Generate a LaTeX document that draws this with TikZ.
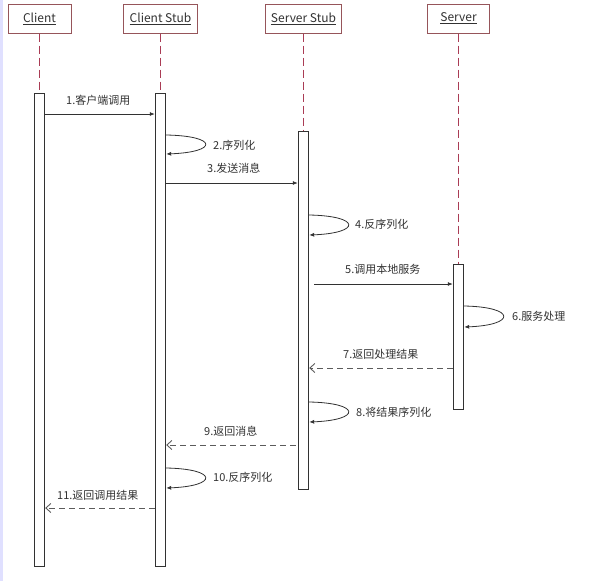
\documentclass[tikz,border=0pt]{standalone}
\usepackage{fontspec}
\setmainfont{Noto Sans CJK SC}
\usetikzlibrary{arrows.meta}
\definecolor{headred}{RGB}{150,85,90}
\definecolor{lifered}{RGB}{170,60,85}
\definecolor{inkgray}{RGB}{50,50,50}

\begin{document}
\begin{tikzpicture}[x=1pt,y=-1pt,
  head/.style={draw=headred,line width=1pt,minimum height=29pt,inner sep=0pt,font=\fontsize{12}{14}\selectfont,text=inkgray},
  bar/.style={draw=inkgray,fill=white,line width=0.9pt,minimum width=10.5pt,inner sep=0pt,anchor=north},
  life/.style={draw=lifered,dash pattern=on 8pt off 4pt,line width=1pt},
  call/.style={draw=inkgray,line width=0.8pt,-{Latex[length=5pt,width=4pt]}},
  back/.style={draw=inkgray!80,line width=0.9pt,dash pattern=on 6pt off 4pt,-{Straight Barb[length=5pt,width=9pt]}},
  msg/.style={anchor=west,inner sep=0pt,font=\fontsize{11}{13}\selectfont,text=inkgray}]
\useasboundingbox (0,0) rectangle (589,581);
\fill[blue!12] (0,0) rectangle (2.5,581);
% heads
\node (h-client) at (39.5,18.5) [head,minimum width=63pt] {\underline{Client}};
\node (h-cstub) at (160.5,18.5) [head,minimum width=74pt] {\underline{Client Stub}};
\node (h-sstub) at (303.5,18.5) [head,minimum width=76pt] {\underline{Server Stub}};
\node (h-server) at (458.5,18.5) [head,minimum width=62pt] {\underline{Server}};
% activation bars
\node (a-client) at (39.5,93) [bar,minimum height=473pt] {};
\node (a-cstub) at (160.5,93) [bar,minimum height=473pt] {};
\node (a-sstub) at (303.5,131) [bar,minimum height=358pt] {};
\node (a-server) at (458.5,264) [bar,minimum height=145pt] {};
\draw[life] (h-client) -- (a-client);
\draw[life] (h-cstub) -- (a-cstub);
\draw[life] (h-sstub) -- (a-sstub);
\draw[life] (h-server) -- (a-server);
% message levels
\coordinate (y1) at (0,114);
\coordinate (y2s) at (0,135);  \coordinate (y2e) at (0,154);
\coordinate (y3) at (0,183);
\coordinate (y4s) at (0,215);  \coordinate (y4e) at (0,235);
\coordinate (y5) at (0,284);
\coordinate (y6s) at (0,306);  \coordinate (y6e) at (0,327);
\coordinate (y7) at (0,368);
\coordinate (y8s) at (0,402);  \coordinate (y8e) at (0,422);
\coordinate (y9) at (0,445);
\coordinate (y10s) at (0,468); \coordinate (y10e) at (0,488);
\coordinate (y11) at (0,508);
% labels
\node (l1) at (66,100) [msg] {1.客户端调用};
\node (l2) at (213,145) [msg] {2.序列化};
\node (l3) at (207,168) [msg] {3.发送消息};
\node (l4) at (355,224) [msg] {4.反序列化};
\node (l5) at (345,269) [msg] {5.调用本地服务};
\node (l6) at (512,316) [msg] {6.服务处理};
\node (l7) at (343,354) [msg] {7.返回处理结果};
\node (l8) at (356,412) [msg] {8.将结果序列化};
\node (l9) at (204,431) [msg] {9.返回消息};
\node (l10) at (213,477) [msg] {10.反序列化};
\node (l11) at (57,495) [msg] {11.返回调用结果};
% calls
\draw[call] (a-client.east |- y1) -- (a-cstub.west |- y1);
\draw[call] (a-cstub.east |- y2s) .. controls +(52,1) and +(52,-2) .. (a-cstub.east |- y2e);
\draw[call] (a-cstub.east |- y3) -- (a-sstub.west |- y3);
\draw[call] (a-sstub.east |- y4s) .. controls +(52,1) and +(52,-2) .. (a-sstub.east |- y4e);
\draw[call] ([xshift=5pt]a-sstub.east |- y5) -- (a-server.west |- y5);
\draw[call] (a-server.east |- y6s) .. controls +(52,1) and +(52,-2) .. (a-server.east |- y6e);
\draw[back] (a-server.west |- y7) -- (a-sstub.east |- y7);
\draw[call] (a-sstub.east |- y8s) .. controls +(52,1) and +(52,-2) .. (a-sstub.east |- y8e);
\draw[back] ([xshift=-2pt]a-sstub.west |- y9) -- (a-cstub.east |- y9);
\draw[call] (a-cstub.east |- y10s) .. controls +(52,1) and +(52,-2) .. (a-cstub.east |- y10e);
\draw[back] (a-cstub.west |- y11) -- (a-client.east |- y11);
\end{tikzpicture}
\end{document}
